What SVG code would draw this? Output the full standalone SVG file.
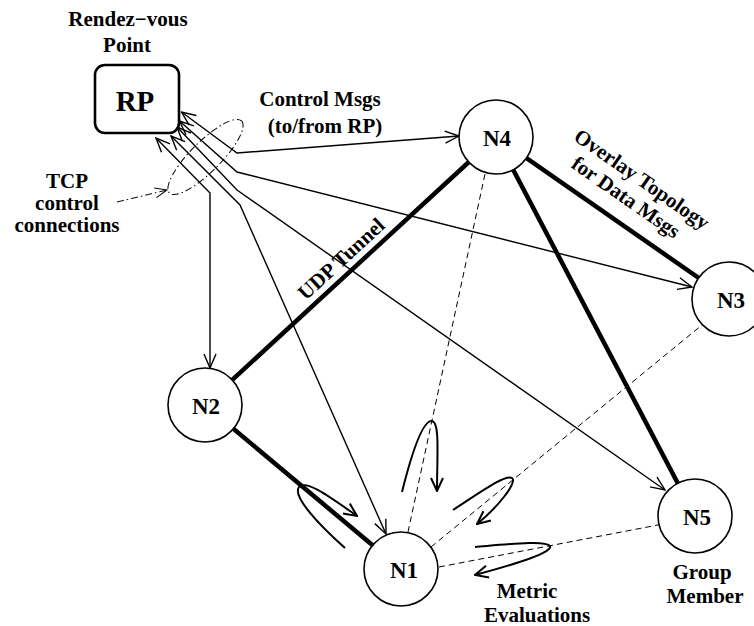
<svg xmlns="http://www.w3.org/2000/svg" width="754" height="626" viewBox="0 0 754 626">
  <defs>
    <marker id="arr" viewBox="-15 -8 16 16" markerWidth="16" markerHeight="16" refX="0" refY="0" orient="auto-start-reverse" markerUnits="userSpaceOnUse">
      <path d="M-14,-6 L0,0 L-14,6" fill="none" stroke="#000" stroke-width="1.4"/>
    </marker>
    <marker id="arrLoop" viewBox="-15 -8 16 16" markerWidth="16" markerHeight="16" refX="0" refY="0" orient="auto" markerUnits="userSpaceOnUse">
      <path d="M-13,-6 L0,0 L-13,6" fill="none" stroke="#000" stroke-width="2"/>
    </marker>
    <marker id="arrThin" viewBox="-15 -8 16 16" markerWidth="16" markerHeight="16" refX="0" refY="0" orient="auto" markerUnits="userSpaceOnUse">
      <path d="M-12,-5 L0,0 L-12,5" fill="none" stroke="#000" stroke-width="1"/>
    </marker>
    <style>
      text { font-family: "Liberation Serif", "Times New Roman", serif; font-weight: bold; fill: #000; text-anchor: middle; }
      .lbl { font-size: 21px; }
      .nid { font-size: 23px; }
      .node { fill: #fff; stroke: #000; stroke-width: 1.6; }
      .thick { stroke: #000; stroke-width: 4.5; fill: none; }
      .ctrl { stroke: #000; stroke-width: 1.4; fill: none; marker-start: url(#arr); marker-end: url(#arr); }
      .probe { stroke: #000; stroke-width: 1; fill: none; stroke-dasharray: 6 4; }
      .loop { stroke: #000; stroke-width: 2; fill: none; marker-end: url(#arrLoop); }
      .dashdot { stroke: #000; stroke-width: 1; fill: none; stroke-dasharray: 7 3 1.5 3; }
    </style>
  </defs>
  <rect width="754" height="626" fill="#fff"/>

  <g id="connectors">
    <!-- overlay topology (data tunnels) -->
    <line class="thick" x1="205" y1="405" x2="496" y2="137"/>
    <line class="thick" x1="205" y1="405" x2="401" y2="569"/>
    <line class="thick" x1="496" y1="137" x2="729" y2="299"/>
    <line class="thick" x1="496" y1="137" x2="695" y2="516"/>
    <!-- probes between N1 and other members -->
    <line class="probe" x1="408" y1="532" x2="485" y2="174"/>
    <line class="probe" x1="431" y1="547" x2="702" y2="325"/>
    <line class="probe" x1="439" y1="567" x2="658" y2="525"/>
    <!-- control connections to/from RP -->
    <polyline class="ctrl" points="181.5,112 237,153 459,136"/>
    <polyline class="ctrl" points="179.5,121 237,172 692,287"/>
    <polyline class="ctrl" points="177,127 237,190 665,490"/>
    <polyline class="ctrl" points="171,136 240,205 386,534"/>
    <polyline class="ctrl" points="156,138 210,193 210,368"/>
    <!-- bundle of TCP connections -->
    <ellipse class="dashdot" cx="205.5" cy="157" rx="51" ry="15" transform="rotate(-45 205.5 157)"/>
    <line class="dashdot" x1="117" y1="202" x2="167" y2="190" marker-end="url(#arrThin)"/>
    <!-- metric evaluation loops -->
    <path class="loop" d="M402,492 C410,460 422,420 432,421 C440,422 437,455 437,491"/>
    <path class="loop" d="M453,510 C478,494 505,474 512,478 C518,482 497,508 477,524"/>
    <path class="loop" d="M475,547 C510,544 546,540 550,546 C553,552 520,563 475,575"/>
    <path class="loop" d="M345,548 C318,524 292,496 299,487 C306,479 330,497 357,516"/>
  </g>

  <g id="RP">
    <rect x="95" y="65" width="84" height="68" rx="10" ry="10" fill="#fff" stroke="#000" stroke-width="2.6"/>
    <text x="135" y="111" style="font-size:29px">RP</text>
  </g>
  <g id="N4">
    <circle class="node" cx="496" cy="137" r="37"/>
    <text class="nid" x="497" y="146">N4</text>
  </g>
  <g id="N3">
    <circle class="node" cx="729" cy="299" r="37"/>
    <text class="nid" x="731" y="308">N3</text>
  </g>
  <g id="N2">
    <circle class="node" cx="205" cy="405" r="37"/>
    <text class="nid" x="206" y="414">N2</text>
  </g>
  <g id="N1">
    <circle class="node" cx="401" cy="569" r="37"/>
    <text class="nid" x="404" y="578">N1</text>
  </g>
  <g id="N5">
    <circle class="node" cx="695" cy="516" r="37"/>
    <text class="nid" x="697" y="525">N5</text>
  </g>

  <g id="labels">
    <text class="lbl" x="128" y="26">Rendez−vous</text>
    <text class="lbl" x="127" y="52">Point</text>
    <text class="lbl" x="320" y="106">Control Msgs</text>
    <text class="lbl" x="325" y="133">(to/from RP)</text>
    <text class="lbl" x="67" y="188">TCP</text>
    <text class="lbl" x="67" y="210">control</text>
    <text class="lbl" x="67" y="232">connections</text>
    <text class="lbl" transform="translate(346,264) rotate(-42.6)">UDP Tunnel</text>
    <text class="lbl" transform="translate(638,185) rotate(34.8)">Overlay Topology</text>
    <text class="lbl" transform="translate(622,203) rotate(34.8)">for Data Msgs</text>
    <text class="lbl" x="702" y="579">Group</text>
    <text class="lbl" x="705" y="603">Member</text>
    <text class="lbl" x="527" y="598">Metric</text>
    <text class="lbl" x="537" y="622">Evaluations</text>
  </g>
</svg>
